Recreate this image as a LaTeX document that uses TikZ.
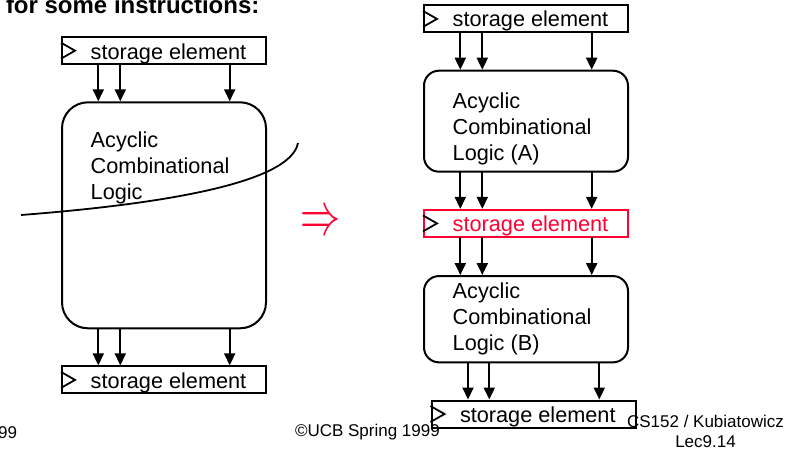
\documentclass[tikz,border=0pt]{standalone}
\usepackage{fontspec}
\setmainfont{Liberation Sans}
\usetikzlibrary{arrows.meta}
\definecolor{hot}{RGB}{255,0,51}
\begin{document}
\begin{tikzpicture}[x=1pt,y=-1pt,
  line width=2pt,
  every node/.style={inner sep=0pt,outer sep=0pt},
  txt/.style={font=\fontsize{21.7}{26}\selectfont},
  small/.style={font=\fontsize{17}{20.5}\selectfont},
  storebox/.style={draw,rectangle,minimum width=204pt,minimum height=27pt},
  logicbox/.style={draw,rectangle,minimum width=204pt},
  arr/.style={-{Triangle[width=11pt,length=12pt]},shorten >=1pt},
  clk/.style={line width=1.8pt,line join=miter}]
\useasboundingbox (0,0) rectangle (800,453);

% heading line, cut at the top edge
\node[anchor=base west,font=\fontsize{24}{28}\selectfont\bfseries] (head) at (6,13) {for some instructions:};

% ---------- left: single combinational block ----------
\node[storebox] (s1) at (164,50.7) {};
\node[txt,anchor=base west] (s1t) at (90.7,59) {storage element};
\node[logicbox,rounded corners=26pt,minimum height=226pt] (lg) at (164,215.3) {};
\node[txt,anchor=base west,align=left] (lgt) at (90.7,199) {Acyclic\\Combinational\\Logic};
\node[storebox] (s2) at (164,379.9) {};
\node[txt,anchor=base west] (s2t) at (90.7,388) {storage element};

\foreach \dx in {-65.7,-43.7,65.7}{
  \draw[arr] ([xshift=\dx pt]s1.south) -- ([xshift=\dx pt]s1.south |- lg.north);
  \draw[arr] ([xshift=\dx pt]lg.south) -- ([xshift=\dx pt]lg.south |- s2.north);
}
\foreach \b in {s1,s2}{
  \draw[clk] ([shift={(-1pt,-8pt)}]\b.west) -- ([xshift=13pt]\b.west) -- ([shift={(-1pt,8pt)}]\b.west);
}

% cut line through the block
\coordinate (c0) at (21,215);
\coordinate (c1) at (298,143);
\draw[line width=1.8pt] (c0) .. controls (150,205) and (290,185) .. (c1);

% ---------- arrow between the two versions ----------
\node[text=hot] (imp) at (320,223) {\resizebox{40pt}{22pt}{$\Rightarrow$}};

% ---------- right: pipelined version ----------
\node[storebox] (r1) at (526,18.9) {};
\node[txt,anchor=base west] (r1t) at (452.7,26) {storage element};
\node[logicbox,rounded corners=15pt,minimum height=101pt] (la) at (526,121.2) {};
\node[txt,anchor=base west,align=left] (lat) at (452.7,160) {Acyclic\\Combinational\\Logic (A)};
\node[storebox,draw=hot] (r2) at (526,223.4) {};
\node[txt,anchor=base west,text=hot] (r2t) at (452.7,231) {storage element};
\node[logicbox,rounded corners=15pt,minimum height=86.3pt] (lb) at (526,319.2) {};
\node[txt,anchor=base west,align=left] (lbt) at (452.7,350) {Acyclic\\Combinational\\Logic (B)};
\node[storebox] (r3) at (533.5,414) {};
\node[txt,anchor=base west] (r3t) at (460,422) {storage element};

\foreach \dx in {-65.7,-43.7,65.7}{
  \draw[arr] ([xshift=\dx pt]r1.south) -- ([xshift=\dx pt]r1.south |- la.north);
  \draw[arr] ([xshift=\dx pt]la.south) -- ([xshift=\dx pt]la.south |- r2.north);
  \draw[arr] ([xshift=\dx pt]r2.south) -- ([xshift=\dx pt]r2.south |- lb.north);
}
\foreach \dx in {-65.5,-44.2,65.8}{
  \draw[arr] ([xshift=\dx pt]lb.south -| r3) -- ([xshift=\dx pt]r3.north);
}
\foreach \b in {r1,r2,r3}{
  \draw[clk] ([shift={(-1pt,-8pt)}]\b.west) -- ([xshift=13pt]\b.west) -- ([shift={(-1pt,8pt)}]\b.west);
}

% ---------- footer ----------
\node[small,anchor=base east] (f1) at (17,438) {99};
\node[small,anchor=base west] (f2) at (295,436.7) {©UCB Spring 1999};
\node[small,anchor=base,align=center] (f3) at (705.5,447.7) {CS152 / Kubiatowicz\\Lec9.14};
\end{tikzpicture}
\end{document}
